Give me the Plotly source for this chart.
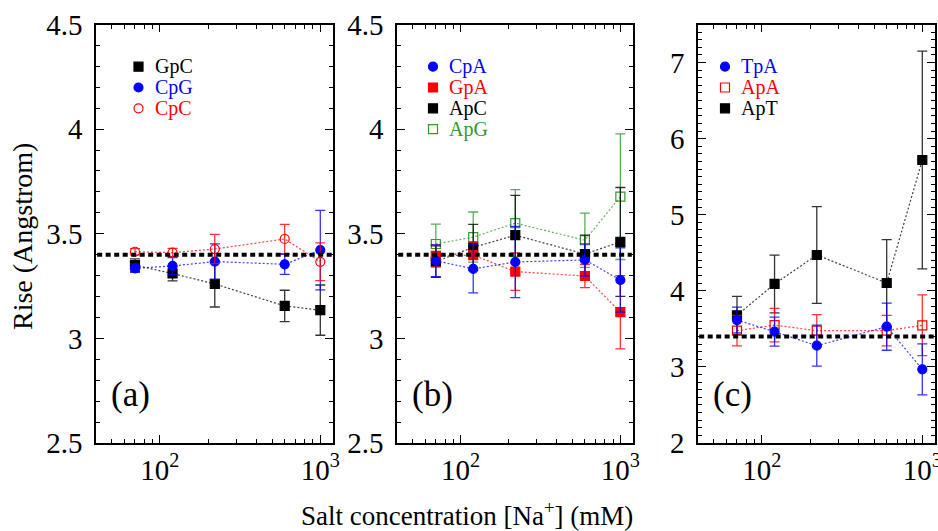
import plotly.graph_objects as go
import numpy as np

# ---------------- data ----------------
salt_mM = [70, 120, 220, 600, 1000]
REF_RISE = 3.4

# panel (a)
gpc = [3.35, 3.31, 3.26, 3.155, 3.135]
gpc_err = [0.03, 0.035, 0.11, 0.075, 0.12]
cpg = [3.335, 3.346, 3.367, 3.354, 3.422]
cpg_err = [0.02, 0.04, 0.085, 0.048, 0.19]
cpc = [3.414, 3.41, 3.427, 3.475, 3.366]
cpc_err = [0.015, 0.02, 0.07, 0.07, 0.09]

# panel (b)
cpa = [3.371, 3.332, 3.365, 3.375, 3.279]
cpa_err = [0.076, 0.115, 0.17, 0.077, 0.154]
gpa = [3.394, 3.398, 3.319, 3.298, 3.125]
gpa_err = [0.053, 0.06, 0.09, 0.055, 0.175]
apc = [3.367, 3.435, 3.493, 3.403, 3.461]
apc_err = [0.075, 0.11, 0.19, 0.09, 0.26]
apg = [3.451, 3.484, 3.551, 3.469, 3.677]
apg_err = [0.095, 0.12, 0.16, 0.13, 0.3]

# panel (c)
tpa = [3.616, 3.463, 3.279, 3.529, 2.968]
tpa_err = [0.17, 0.19, 0.27, 0.31, 0.335]
apa = [3.476, 3.55, 3.476, 3.476, 3.547]
apa_err = [0.2, 0.22, 0.21, 0.2, 0.4]
apt = [3.678, 4.09, 4.471, 4.103, 5.719]
apt_err = [0.25, 0.38, 0.635, 0.57, 1.43]

panel_labels = ["(a)", "(b)", "(c)"]
x_tickvals = [100, 1000]
x_ticktext = ["10<sup>2</sup>", "10<sup>3</sup>"]
x_minor = [40, 50, 60, 70, 80, 90, 200, 300, 400, 500, 600, 700, 800, 900]

BLUE = "#0000ff"
RED = "#ff0000"
BLACK = "#000000"
GREEN = "#2e9b2e"
FONT = "Liberation Serif"

def rgba(hexc, a):
    h = hexc.lstrip("#")
    return f"rgba({int(h[0:2],16)},{int(h[2:4],16)},{int(h[4:6],16)},{a})"

series = [
    # panel, name, y, err, color, symbol
    (1, "GpC", gpc, gpc_err, BLACK, "square"),
    (1, "CpG", cpg, cpg_err, BLUE, "circle"),
    (1, "CpC", cpc, cpc_err, RED, "circle-open"),
    (2, "ApG", apg, apg_err, GREEN, "square-open"),
    (2, "ApC", apc, apc_err, BLACK, "square"),
    (2, "GpA", gpa, gpa_err, RED, "square"),
    (2, "CpA", cpa, cpa_err, BLUE, "circle"),
    (3, "ApT", apt, apt_err, BLACK, "square"),
    (3, "ApA", apa, apa_err, RED, "square-open"),
    (3, "TpA", tpa, tpa_err, BLUE, "circle"),
]

legend_order = {
    1: ["GpC", "CpG", "CpC"],
    2: ["CpA", "GpA", "ApC", "ApG"],
    3: ["TpA", "ApA", "ApT"],
}

fig = go.Figure()

for panel, name, y, err, col, sym in series:
    sfx = "" if panel == 1 else str(panel)
    fig.add_trace(go.Scatter(
        x=salt_mM, y=y, name=name, mode="lines+markers",
        xaxis="x" + sfx, yaxis="y" + sfx,
        line=dict(color=rgba(col, 0.75), width=1.2, dash="2px,2px"),
        marker=dict(symbol=sym, size=9,
                    color=col, line=dict(color=col, width=1.2)),
        error_y=dict(type="data", array=err, visible=True,
                     color=rgba(col, 0.8), thickness=1.3, width=5),
        showlegend=False,
    ))

# page body margin is removed by the post script, so the figure fills the window
W, H = 938, 531
def px(xp):
    return xp / W
def py(yp):
    return 1 - yp / H

x_doms = [(96, 333), (397, 633), (698, 935)]
y_top, y_bot = 24.5, 443
ydom = [py(y_bot), py(y_top)]

common_x = dict(
    type="log", range=[np.log10(40), np.log10(1200)],
    tickvals=x_tickvals, ticktext=x_ticktext,
    ticks="inside", ticklen=8, tickwidth=1.3, tickcolor="black",
    minor=dict(tickvals=x_minor, ticks="inside", ticklen=4.5, tickwidth=1.1, tickcolor="black"),
    showline=True, linecolor="black", linewidth=1.6, mirror="allticks",
    showgrid=False, zeroline=False, automargin=False,
    ticklabeloverflow="allow",
    tickfont=dict(family=FONT, size=29, color="black"),
)
common_y = dict(
    ticks="inside", ticklen=8, tickwidth=1.3, tickcolor="black",
    showline=True, linecolor="black", linewidth=1.6, mirror="allticks",
    showgrid=False, zeroline=False, automargin=False,
    ticklabelstandoff=6, ticklabeloverflow="allow",
    tickfont=dict(family=FONT, size=29, color="black"),
)

layout = dict(width=W, height=H, margin=dict(l=0, r=0, t=0, b=0),
              template="none",
              plot_bgcolor="white", paper_bgcolor="white", showlegend=False)
for i, (x0, x1) in enumerate(x_doms):
    sfx = "" if i == 0 else str(i + 1)
    xa = dict(common_x, domain=[px(x0), px(x1)], anchor="y" + sfx)
    ya = dict(common_y, domain=ydom, anchor="x" + sfx)
    if i < 2:
        ya.update(range=[2.5, 4.5], dtick=0.5, tick0=0,
                  minor=dict(dtick=0.1, tick0=0, ticks="inside", ticklen=4.5, tickwidth=1.1, tickcolor="black"))
    else:
        ya.update(range=[2, 7.5], dtick=1, tick0=0,
                  minor=dict(dtick=0.1, tick0=0, ticks="inside", ticklen=4.5, tickwidth=1.1, tickcolor="black"))
    layout["xaxis" + sfx] = xa
    layout["yaxis" + sfx] = ya
fig.update_layout(**layout)

# reference line and labels per panel
shapes = []
annotations = []
sym_map = {name: (col, sym) for _, name, _, _, col, sym in series}
leg_x_px = [138.5, 433, 725]
leg_y0_px = 66.7
leg_dy = 20.8
for i in range(3):
    sfx = "" if i == 0 else str(i + 1)
    xr, yr = "x" + sfx, "y" + sfx
    shapes.append(dict(type="line", xref=xr + " domain", yref=yr,
                       x0=0.005, x1=0.995, y0=REF_RISE, y1=REF_RISE,
                       line=dict(color="black", width=4, dash="5px,3.5px")))
    annotations.append(dict(text=panel_labels[i], xref=xr + " domain", yref=yr + " domain",
                            x=0.055, y=0.115, xanchor="left", yanchor="middle", showarrow=False,
                            font=dict(family=FONT, size=35, color="black")))
    x0, x1 = x_doms[i]
    for k, name in enumerate(legend_order[i + 1]):
        col, sym = sym_map[name]
        cx = (leg_x_px[i] - x0) / (x1 - x0)
        cy = (y_bot - (leg_y0_px + k * leg_dy)) / (y_bot - y_top)
        base = dict(xref=xr + " domain", yref=yr + " domain",
                    xsizemode="pixel", ysizemode="pixel", xanchor=cx, yanchor=cy)
        filled = not sym.endswith("open")
        s = 4.5
        shapes.append(dict(base, type="rect" if sym.startswith("square") else "circle",
                           x0=-s, x1=s, y0=-s, y1=s,
                           fillcolor=col if filled else "white",
                           line=dict(color=col, width=1.2)))
        annotations.append(dict(text=name, xref=xr + " domain", yref=yr + " domain",
                                x=cx, xshift=14, y=cy, xanchor="left", yanchor="middle",
                                showarrow=False, font=dict(family=FONT, size=20, color=col)))

annotations.append(dict(text="Rise (Angstrom)", xref="paper", yref="paper",
                        x=px(22), y=py(237), textangle=-90, showarrow=False,
                        xanchor="center", yanchor="middle",
                        font=dict(family=FONT, size=28, color="black")))
annotations.append(dict(text="Salt concentration [Na<sup>+</sup>] (mM)", xref="paper", yref="paper",
                        x=px(467), y=py(514), showarrow=False,
                        xanchor="center", yanchor="middle",
                        font=dict(family=FONT, size=27, color="black")))
fig.update_layout(shapes=shapes, annotations=annotations)

post = ("document.documentElement.style.margin='0';document.body.style.margin='0';"
        "document.documentElement.style.overflow='hidden';document.body.style.overflow='hidden';")
fig.write_html("out.html", post_script=post, config={"displayModeBar": False})
